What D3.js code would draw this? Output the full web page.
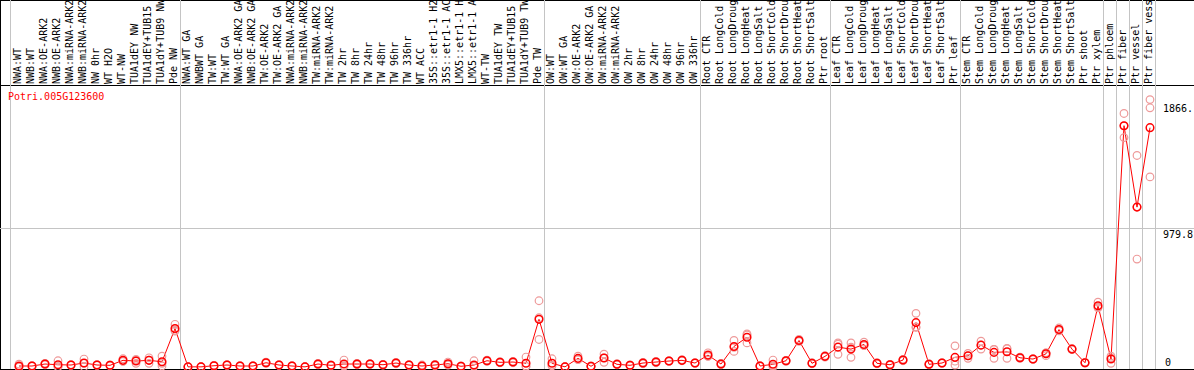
<!DOCTYPE html>
<html>
<head>
<meta charset="utf-8">
<script src="https://cdn.jsdelivr.net/npm/d3@7"></script>
<style>
  html, body { margin: 0; padding: 0; background: #fff; }
  svg { display: block; }
  text { font-family: "DejaVu Sans Mono", "Liberation Mono", monospace; font-size: 10px; }
</style>
</head>
<body>
<svg id="chart" width="1194" height="370"></svg>
<script>
const geneId = "Potri.005G123600";

const categories = [
  "NWA:WT","NWB:WT","NWA:OE-ARK2","NWB:OE-ARK2","NWA:miRNA-ARK2","NWB:miRNA-ARK2","NW 0hr","WT H2O","WT-NW","TUA1dEY NW",
  "TUA1dEY+TUB15","TUA1dY+TUB9 NW","Pde NW","NWA:WT GA","NWBWT GA","TW:WT","TW:WT GA","NWA:OE-ARK2 GA","NWB:OE-ARK2 GA","TW:OE-ARK2",
  "TW:OE-ARK2 GA","NWA:miRNA-ARK2","NWB:miRNA-ARK2","TW:miRNA-ARK2","TW:miRNA-ARK2","TW 2hr","TW 8hr","TW 24hr","TW 48hr","TW 96hr",
  "TW 336hr","WT ACC","35S::etr1-1 H2","35S::etr1-1 AC","LMX5::etr1-1 H","LMX5::etr1-1 A","WT-TW","TUA1dEY TW","TUA1dEY+TUB15","TUA1dY+TUB9 TW",
  "Pde TW","OW:WT","OW:WT GA","OW:OE-ARK2","OW:OE-ARK2 GA","OW:miRNA-ARK2","OW:miRNA-ARK2","OW 2hr","OW 8hr","OW 24hr",
  "OW 48hr","OW 96hr","OW 336hr","Root CTR","Root LongCold","Root LongDroug","Root LongHeat","Root LongSalt","Root ShortCold","Root ShortDrou",
  "Root ShortHeat","Root ShortSalt","Ptr root","Leaf CTR","Leaf LongCold","Leaf LongDroug","Leaf LongHeat","Leaf LongSalt","Leaf ShortCold","Leaf ShortDrou",
  "Leaf ShortHeat","Leaf ShortSalt","Ptr leaf","Stem CTR","Stem LongCold","Stem LongDroug","Stem LongHeat","Stem LongSalt","Stem ShortCold","Stem ShortDrou",
  "Stem ShortHeat","Stem ShortSalt","Ptr shoot","Ptr xylem","Ptr phloem","Ptr fiber","Ptr vessel","Ptr fiber vess"
];

const meanValues = [
  7,7,21,16,14,28,14,12,47,42,
  47,37,271,1,1,9,14,7,7,30,
  14,7,1,21,12,21,21,21,16,28,
  14,7,14,23,5,14,44,33,35,26,
  336,26,1,61,5,63,19,12,28,35,
  42,47,28,84,21,145,210,7,19,44,
  187,26,75,140,126,159,26,16,49,313,
  19,28,68,79,154,103,107,65,56,93,
  264,126,30,432,56,1701,1127,1687
];

const rep1 = [
  20,9,26,44,16,56,16,14,58,54,
  65,77,301,2,3,12,16,9,9,35,
  16,9,3,26,14,49,26,24,19,33,
  16,14,19,35,7,44,49,37,40,70,
  467,58,3,77,7,91,23,14,33,40,
  44,51,30,100,26,187,233,9,49,47,
  194,30,80,170,170,175,30,19,54,378,
  23,30,149,96,182,124,131,70,58,100,
  275,130,33,457,77,1787,1491,1885
];

const rep2 = [
  0,5,16,2,12,2,12,10,40,26,
  26,26,259,0,0,7,12,5,5,26,
  12,5,0,16,10,7,16,18,14,23,
  12,3,9,14,3,5,40,30,30,5,
  194,12,0,54,3,33,16,10,23,30,
  40,44,26,75,16,110,170,5,0,40,
  180,23,70,89,68,150,23,12,44,282,
  16,26,14,61,126,61,61,61,54,80,
  255,122,28,422,26,1617,761,1827
];

const rep3 = [
  1,7,21,2,14,26,14,12,42,47,
  49,7,253,1,1,9,14,7,7,30,
  14,7,1,21,12,7,21,21,16,28,
  14,5,14,21,5,7,44,33,35,5,
  347,8,1,52,5,65,19,12,28,35,
  42,47,28,77,21,138,226,7,8,44,
  187,26,75,161,140,152,26,16,49,279,
  19,28,41,79,154,124,129,65,56,100,
  262,126,30,417,65,1700,1129,1340
];

// group separators: index of last column in each group
const groupEnds = [12, 40, 52, 62, 72, 83, 84, 85, 86, 87];
const tickValues = [1866, 979.8, 0];
const tickLabels = ["1866.", "979.8", "0"];
const gridValues = [979.8];
const yMax = 1959.6;

const W = 1194, H = 370;
const svg = d3.select("#chart");

const x = d3.scalePoint()
  .domain(d3.range(categories.length))
  .range([19, 19 + 13 * (categories.length - 1)]);
const step = x.step();
const y = d3.scaleLinear().domain([0, yMax]).range([367, 89]);

// frame
svg.append("line").attr("x1", 0).attr("x2", W).attr("y1", 0.5).attr("y2", 0.5).attr("stroke", "#000");
svg.append("line").attr("x1", 0.5).attr("x2", 0.5).attr("y1", 0).attr("y2", H).attr("stroke", "#000");
svg.append("line").attr("x1", 0).attr("x2", W).attr("y1", 85.5).attr("y2", 85.5).attr("stroke", "#000");
svg.append("line").attr("x1", 0).attr("x2", W).attr("y1", 369.5).attr("y2", 369.5).attr("stroke", "#000");

// horizontal gridline(s)
svg.selectAll("line.grid").data(gridValues).join("line")
  .attr("class", "grid")
  .attr("x1", 0).attr("x2", W)
  .attr("y1", d => Math.round(y(d)) + 0.5).attr("y2", d => Math.round(y(d)) + 0.5)
  .attr("stroke", "#c4c4c4");

// vertical separators
svg.append("line").attr("x1", 10.5).attr("x2", 10.5).attr("y1", 0).attr("y2", 369)
  .attr("stroke", "#c4c4c4");
svg.selectAll("line.sep").data(groupEnds).join("line")
  .attr("class", "sep")
  .attr("x1", d => x(d) + 5.5).attr("x2", d => x(d) + 5.5)
  .attr("y1", 0).attr("y2", 369)
  .attr("stroke", "#c4c4c4");

// category labels (rotated)
svg.selectAll("text.cat").data(categories).join("text")
  .attr("class", "cat")
  .attr("transform", (d, i) => `translate(${x(i) + 2},84) rotate(-90)`)
  .attr("text-anchor", "start")
  .attr("fill", "#000")
  .text(d => d);

// gene id
svg.append("text").attr("x", 8).attr("y", 100).attr("fill", "#ff0000").text(geneId);

// right axis labels
svg.selectAll("text.tick").data(tickValues).join("text")
  .attr("class", "tick")
  .attr("x", d => d === 0 ? 1165 : 1163)
  .attr("y", d => d === 0 ? 366 : y(d) + 10)
  .attr("fill", "#000")
  .text((d, i) => tickLabels[i]);

// mean line
const line = d3.line().x((d, i) => x(i)).y(d => y(d));
svg.append("path").datum(meanValues)
  .attr("d", line).attr("fill", "none").attr("stroke", "#ff0000").attr("stroke-width", 1);

// replicate circles
[rep1, rep2, rep3].forEach(rep => {
  svg.append("g").selectAll("circle").data(rep).join("circle")
    .attr("cx", (d, i) => x(i)).attr("cy", d => y(d)).attr("r", 3.8)
    .attr("fill", "none").attr("stroke", "#ee9a9a").attr("stroke-width", 1.2);
});

// mean circles
svg.append("g").selectAll("circle").data(meanValues).join("circle")
  .attr("cx", (d, i) => x(i)).attr("cy", d => y(d)).attr("r", 3.8)
  .attr("fill", "none").attr("stroke", "#ff0000").attr("stroke-width", 1.5);
</script>
</body>
</html>
